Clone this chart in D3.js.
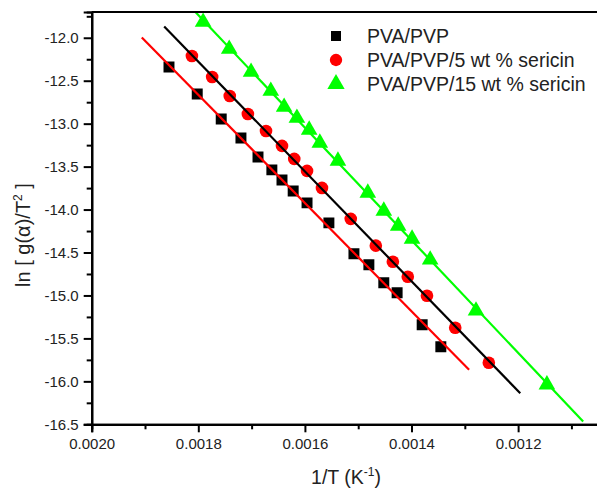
<!DOCTYPE html>
<html>
<head>
<meta charset="utf-8">
<script src="https://cdn.jsdelivr.net/npm/d3@7/dist/d3.min.js"></script>
<style>
  html, body { margin: 0; padding: 0; background: #fff; }
  svg { display: block; font-family: "Liberation Sans", Arial, sans-serif; }
</style>
</head>
<body>
<svg id="chart" width="597" height="489"></svg>
<script>
// ---- data ----
const seriesNames = ["PVA/PVP", "PVA/PVP/5 wt % sericin", "PVA/PVP/15 wt % sericin"];

const pvaX = [0.001855, 0.001802, 0.001757, 0.001720, 0.001688, 0.001662, 0.001643, 0.001622,
              0.001596, 0.001555, 0.001508, 0.001480, 0.001452, 0.001427, 0.001380, 0.001345];
const pvaY = [-12.34, -12.655, -12.945, -13.166, -13.387, -13.538, -13.655, -13.783,
              -13.922, -14.155, -14.515, -14.643, -14.852, -14.969, -15.341, -15.597];

const ser5X = [0.001812, 0.001774, 0.001741, 0.001707, 0.001673, 0.001643, 0.001620, 0.001596,
               0.001568, 0.001514, 0.001467, 0.001435, 0.001407, 0.001371, 0.001318, 0.001255];
const ser5Y = [-12.213, -12.457, -12.678, -12.887, -13.085, -13.259, -13.41, -13.55,
               -13.748, -14.108, -14.42, -14.608, -14.782, -15.003, -15.376, -15.783];

const ser15X = [0.001791, 0.001742, 0.001701, 0.001664, 0.001639, 0.001615, 0.001592, 0.001572,
                0.001538, 0.001482, 0.001452, 0.001425, 0.001399, 0.001365, 0.001279, 0.001146];
const ser15Y = [-11.817, -12.131, -12.399, -12.620, -12.806, -12.934, -13.073, -13.224,
                -13.434, -13.806, -14.015, -14.19, -14.341, -14.585, -15.178, -16.038];

// x-extent of each linear fit line
const fitStart = [0.001906, 0.001864, 0.001830];
const fitEnd   = [0.001292, 0.001196, 0.001078];

const xMajorTicks = [0.0020, 0.0018, 0.0016, 0.0014, 0.0012];
const xMinorTicks = [0.0019, 0.0017, 0.0015, 0.0013, 0.0011];
const yMajorTicks = [-16.5, -16.0, -15.5, -15.0, -14.5, -14.0, -13.5, -13.0, -12.5, -12.0];
const yMinorTicks = [-16.25, -15.75, -15.25, -14.75, -14.25, -13.75, -13.25, -12.75, -12.25, -11.75];

const markerColors = ["#000000", "#ff0000", "#00ff00"];
const lineColors   = ["#ff0000", "#000000", "#00ff00"];

// ---- layout ----
const svg = d3.select("#chart");
const L = 91.7, T = 12, B = 424.3, R = 603.4;
const x = d3.scaleLinear().domain([0.0020, 0.00104]).range([L, R]);
const y = d3.scaleLinear().domain([-16.5, -11.7]).range([B, T]);

svg.append("defs").append("clipPath").attr("id", "clip")
  .append("rect").attr("x", L).attr("y", T).attr("width", R - L).attr("height", B - T);

const series = [
  { xs: pvaX, ys: pvaY, shape: d3.symbolSquare, size: 120 },
  { xs: ser5X, ys: ser5Y, shape: d3.symbolCircle, size: 125 },
  { xs: ser15X, ys: ser15Y, shape: d3.symbolTriangle, size: 120 }
];

function fit(xs, ys) {
  const n = xs.length, mx = d3.mean(xs), my = d3.mean(ys);
  let sxy = 0, sxx = 0;
  for (let i = 0; i < n; i++) { sxy += (xs[i] - mx) * (ys[i] - my); sxx += (xs[i] - mx) ** 2; }
  const b = sxy / sxx, a = my - b * mx;
  return v => a + b * v;
}

const plot = svg.append("g").attr("clip-path", "url(#clip)");

// markers
series.forEach((s, i) => {
  plot.append("g").selectAll("path")
    .data(s.xs.map((v, j) => [v, s.ys[j]]))
    .join("path")
    .attr("transform", d => `translate(${x(d[0])},${y(d[1])})`)
    .attr("d", d3.symbol().type(s.shape).size(s.size))
    .attr("fill", markerColors[i]);
});

// fit lines
series.forEach((s, i) => {
  const f = fit(s.xs, s.ys);
  plot.append("line")
    .attr("x1", x(fitStart[i])).attr("y1", y(f(fitStart[i])))
    .attr("x2", x(fitEnd[i])).attr("y2", y(f(fitEnd[i])))
    .attr("stroke", lineColors[i]).attr("stroke-width", 2.2);
});

// axes
const fmtX = d => d3.format(".4f")(d);
const fmtY = d => d3.format(".1f")(d).replace("\u2212", "-");

const xAxis = svg.append("g").attr("transform", `translate(0,${B})`)
  .call(d3.axisBottom(x).tickValues(xMajorTicks).tickFormat(fmtX).tickSize(8).tickPadding(6));
const xMinor = svg.append("g").attr("transform", `translate(0,${B})`)
  .call(d3.axisBottom(x).tickValues(xMinorTicks).tickFormat("").tickSize(5));
const yAxis = svg.append("g").attr("transform", `translate(${L},0)`)
  .call(d3.axisLeft(y).tickValues(yMajorTicks).tickFormat(fmtY).tickSize(8).tickPadding(5));
const yMinor = svg.append("g").attr("transform", `translate(${L},0)`)
  .call(d3.axisLeft(y).tickValues(yMinorTicks).tickFormat("").tickSize(5));

[xAxis, xMinor, yAxis, yMinor].forEach(g => {
  g.select(".domain").attr("stroke-width", 2.2);
  g.selectAll(".tick line").attr("stroke-width", 2);
  g.selectAll(".tick text").attr("font-size", 15).attr("fill", "#222")
    .attr("font-family", "Liberation Sans, Arial, sans-serif");
});

// frame top and right
svg.append("line").attr("x1", L).attr("x2", R).attr("y1", T).attr("y2", T)
  .attr("stroke", "#000").attr("stroke-width", 2.2);
svg.append("line").attr("x1", R).attr("x2", R).attr("y1", T).attr("y2", B)
  .attr("stroke", "#000").attr("stroke-width", 2.2);

// axis titles
const xt = svg.append("text").attr("x", 346).attr("y", 484).attr("text-anchor", "middle")
  .attr("font-size", 19.5).attr("fill", "#222");
xt.append("tspan").text("1/T (K");
xt.append("tspan").attr("font-size", 12).attr("dy", -8).text("-1");
xt.append("tspan").attr("dy", 8).text(")");

const yt = svg.append("text").attr("transform", "translate(30,235) rotate(-90)")
  .attr("text-anchor", "middle").attr("font-size", 20).attr("fill", "#222");
yt.append("tspan").text("ln [ g(\u03B1)/T");
yt.append("tspan").attr("font-size", 12).attr("dy", -8).text("2");
yt.append("tspan").attr("dy", 8).text(" ]");

// legend
const legend = svg.append("g");
const legendSizes = [100, 120, 130];
seriesNames.forEach((name, i) => {
  const cy = 36 + i * 24;
  legend.append("path")
    .attr("transform", `translate(336,${cy})`)
    .attr("d", d3.symbol().type(series[i].shape).size(legendSizes[i]))
    .attr("fill", markerColors[i]);
  legend.append("text").attr("x", 367).attr("y", cy + 7)
    .attr("font-size", 19.5).attr("fill", "#222").text(name);
});
</script>
</body>
</html>
